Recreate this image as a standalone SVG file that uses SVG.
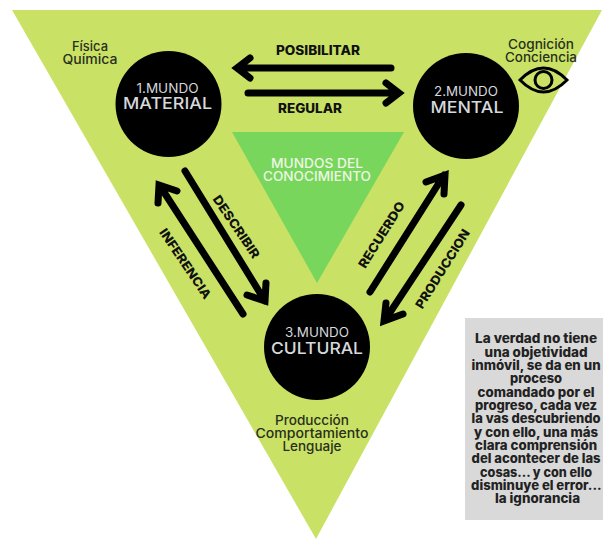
<svg xmlns="http://www.w3.org/2000/svg" width="603" height="539" viewBox="0 0 603 539">
<style>
text{font-family:"Inter","Liberation Sans",sans-serif;text-anchor:middle}
.a{fill:none;stroke:#000;stroke-width:7;stroke-linecap:round;stroke-linejoin:miter}
.l{font-size:12.5px;font-weight:800;fill:#111}
.n1{font-size:12.5px;font-weight:400;fill:#d5d8dc}
.n2{font-size:16.500px;font-weight:500;fill:#d5d8dc}
.s{font-size:13px;font-weight:500;fill:#2a2f1c}
.b{font-size:13px;font-weight:800;fill:#222}
.m{font-size:13px;font-weight:500;fill:#eef7e6}
</style>
<rect width="603" height="539" fill="#fff"/>
<polygon id="background" points="12,10 602,10 316,539" fill="#c9e265"/>
<g id="center">
<polygon points="232,132 404,132 317,283" fill="#77d65b"/>
<text class="m"><tspan x="317" y="168" textLength="92" lengthAdjust="spacingAndGlyphs">MUNDOS DEL</tspan><tspan x="317" y="181" textLength="108" lengthAdjust="spacingAndGlyphs">CONOCIMIENTO</tspan></text>
</g>
<g id="connectors">
<path class="a" d="M391 68H238M250 58L237 68L250 78"/>
<path class="a" d="M248 93H398M386 83L399 93L386 103"/>
<path class="a" d="M243 314L160 186M158 203L159 185L177 191"/>
<path class="a" d="M185 171L265 301M266 283L265 301L247 295"/>
<path class="a" d="M370 292L444 175M426 182L445 175L444 194"/>
<path class="a" d="M461 205L385 320M386 303L384 321L403 314"/>
<text class="l" x="318" y="55" textLength="84" lengthAdjust="spacingAndGlyphs">POSIBILITAR</text>
<text class="l" x="310" y="113" textLength="64" lengthAdjust="spacingAndGlyphs">REGULAR</text>
<text class="l" transform="translate(236 227) rotate(56)" y="4" textLength="73" lengthAdjust="spacingAndGlyphs">DESCRIBIR</text>
<text class="l" transform="translate(185 264) rotate(56)" y="4" textLength="82" lengthAdjust="spacingAndGlyphs">INFERENCIA</text>
<text class="l" transform="translate(382 235) rotate(-58)" y="4" textLength="76" lengthAdjust="spacingAndGlyphs">RECUERDO</text>
<text class="l" transform="translate(443 269) rotate(-58)" y="4" textLength="91" lengthAdjust="spacingAndGlyphs">PRODUCCION</text>
</g>
<g id="mundo1">
<circle cx="168.500" cy="104" r="53"/>
<text><tspan class="n1" x="167.500" y="93" textLength="62" lengthAdjust="spacingAndGlyphs">1.MUNDO</tspan><tspan class="n2" x="167.500" y="109" textLength="89" lengthAdjust="spacingAndGlyphs">MATERIAL</tspan></text>
</g>
<g id="mundo2">
<circle cx="466" cy="106" r="53"/>
<text><tspan class="n1" x="466" y="96" textLength="64" lengthAdjust="spacingAndGlyphs">2.MUNDO</tspan><tspan class="n2" x="467" y="113" textLength="73" lengthAdjust="spacingAndGlyphs">MENTAL</tspan></text>
</g>
<g id="mundo3">
<circle cx="317" cy="347" r="53"/>
<text><tspan class="n1" x="317" y="337" textLength="64" lengthAdjust="spacingAndGlyphs">3.MUNDO</tspan><tspan class="n2" x="317" y="354" textLength="92" lengthAdjust="spacingAndGlyphs">CULTURAL</tspan></text>
</g>
<g id="notes">
<text class="s"><tspan x="90" y="51" textLength="36" lengthAdjust="spacingAndGlyphs">Física</tspan><tspan x="90" y="64" textLength="55" lengthAdjust="spacingAndGlyphs">Química</tspan></text>
<text class="s"><tspan x="541" y="49" textLength="66" lengthAdjust="spacingAndGlyphs">Cognición</tspan><tspan x="541" y="62" textLength="72" lengthAdjust="spacingAndGlyphs">Conciencia</tspan></text>
<text class="s"><tspan x="312" y="425" textLength="74" lengthAdjust="spacingAndGlyphs">Producción</tspan><tspan x="312" y="438" textLength="113" lengthAdjust="spacingAndGlyphs">Comportamiento</tspan><tspan x="312" y="451" textLength="59" lengthAdjust="spacingAndGlyphs">Lenguaje</tspan></text>
</g>
<g id="eye" fill="none" stroke="#000">
<path d="M520 80Q543.500 56 567 80Q543.500 104 520 80Z" stroke-width="3"/>
<circle cx="543.500" cy="80" r="8.500" stroke-width="3"/>
</g>
<g id="callout">
<rect x="465" y="318" width="138" height="202" fill="#d9d9d9"/>
<text class="b">
<tspan x="537.500" y="343.300" textLength="122" lengthAdjust="spacingAndGlyphs">La verdad no tiene</tspan>
<tspan x="537.500" y="356.700" textLength="103" lengthAdjust="spacingAndGlyphs">una objetividad</tspan>
<tspan x="537.500" y="370" textLength="129" lengthAdjust="spacingAndGlyphs">inmóvil, se da en un</tspan>
<tspan x="537.500" y="383.300" textLength="52" lengthAdjust="spacingAndGlyphs">proceso</tspan>
<tspan x="537.500" y="396.700" textLength="117" lengthAdjust="spacingAndGlyphs">comandado por el</tspan>
<tspan x="537.500" y="410" textLength="122" lengthAdjust="spacingAndGlyphs">progreso, cada vez</tspan>
<tspan x="537.500" y="423.300" textLength="129" lengthAdjust="spacingAndGlyphs">la vas descubriendo</tspan>
<tspan x="537.500" y="436.700" textLength="124" lengthAdjust="spacingAndGlyphs">y con ello, una más</tspan>
<tspan x="537.500" y="450" textLength="122" lengthAdjust="spacingAndGlyphs">clara comprensión</tspan>
<tspan x="537.500" y="463.300" textLength="129" lengthAdjust="spacingAndGlyphs">del acontecer de las</tspan>
<tspan x="537.500" y="476.700" textLength="112" lengthAdjust="spacingAndGlyphs">cosas... y con ello</tspan>
<tspan x="537.500" y="490" textLength="130" lengthAdjust="spacingAndGlyphs">disminuye el error...</tspan>
<tspan x="537.500" y="503.300" textLength="85" lengthAdjust="spacingAndGlyphs">la ignorancia</tspan>
</text>
</g>
</svg>
